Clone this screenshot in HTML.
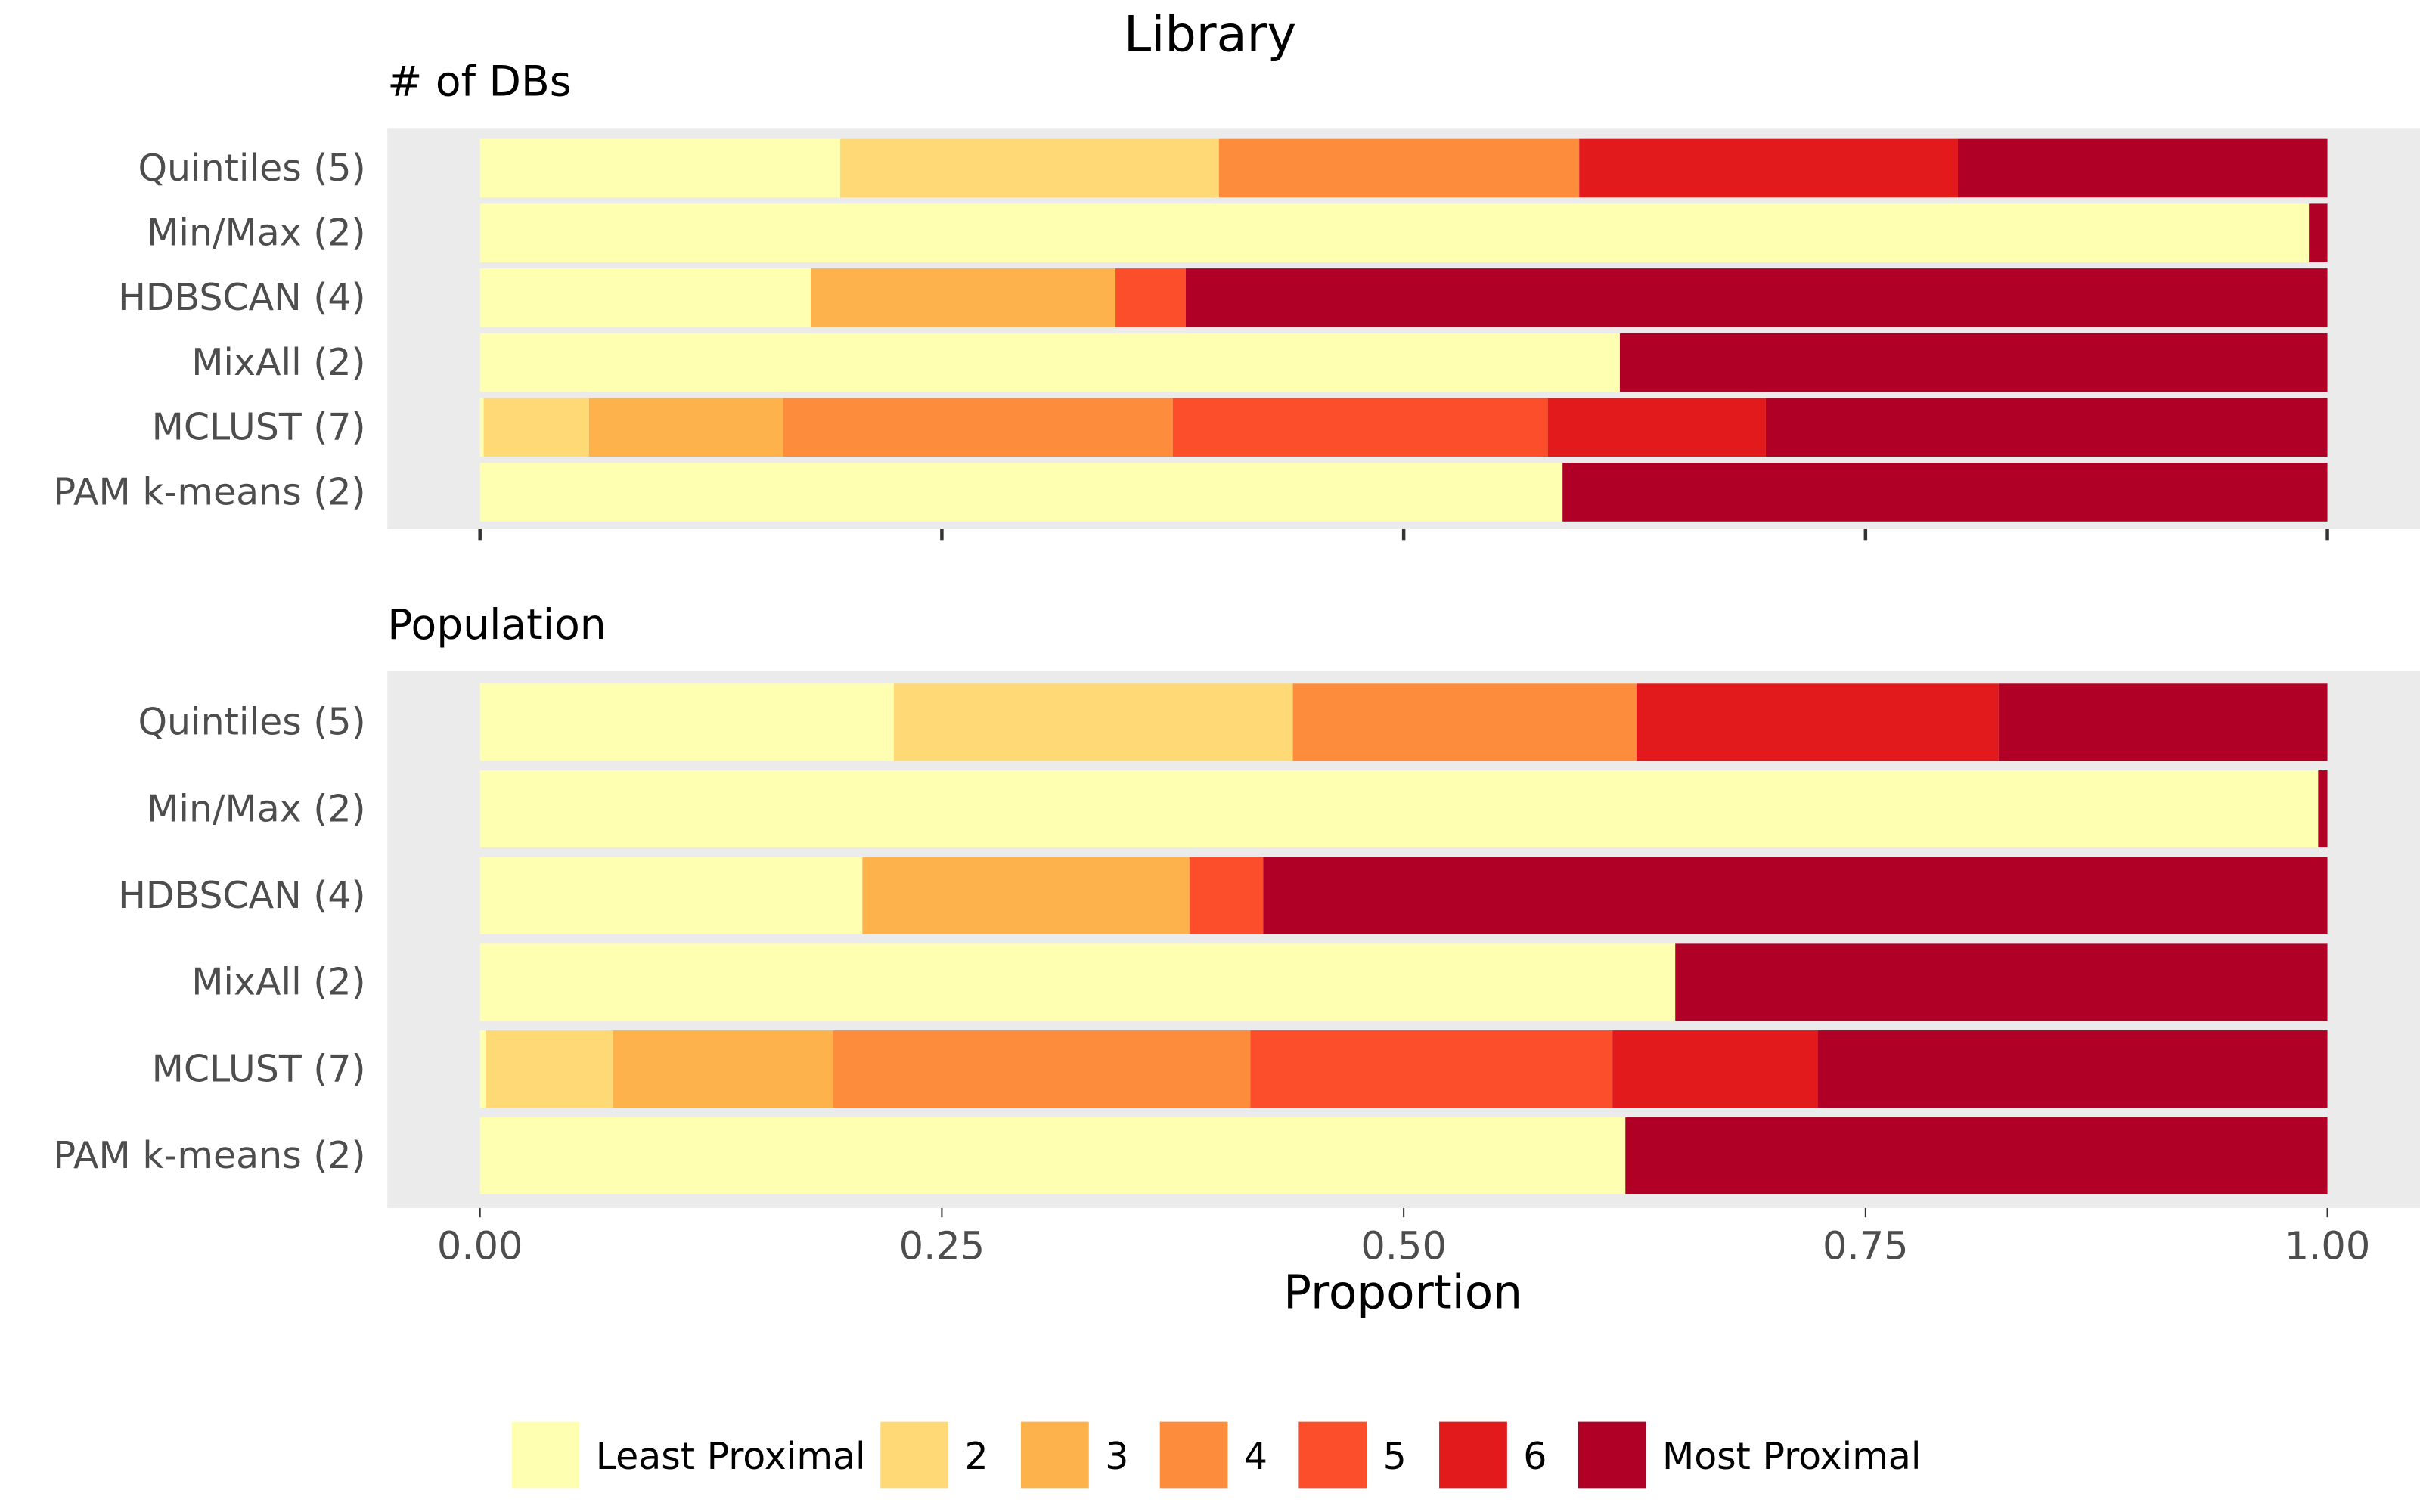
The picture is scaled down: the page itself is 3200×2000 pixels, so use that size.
<!DOCTYPE html>
<html><head><meta charset="utf-8"><style>
html,body{margin:0;padding:0;background:#fff}
svg{display:block;font-family:"DejaVu Sans","Liberation Sans",sans-serif}
</style></head><body>
<svg id="chart" width="3200" height="2000" viewBox="0 0 1568 980">
<text x="784" y="33" font-size="32" text-anchor="middle" fill="#000">Library</text>
<text x="251" y="62" font-size="27" fill="#000"># of DBs</text>
<text x="251" y="414" font-size="27" fill="#000">Population</text>
<rect x="251" y="83" width="1317" height="260" fill="#ebebeb"/>
<rect x="251" y="435" width="1317" height="348" fill="#ebebeb"/>
<g id="bars"></g>
<g id="axes"></g>
<text x="909" y="848" font-size="30" text-anchor="middle" fill="#000">Proportion</text>
<g id="legend"></g>
</svg>
<script>
const methods = ["Quintiles (5)","Min/Max (2)","HDBSCAN (4)","MixAll (2)","MCLUST (7)","PAM k-means (2)"];
const categories = ["Least Proximal","2","3","4","5","6","Most Proximal"];
const colors = ["#ffffb2","#fed976","#feb24c","#fd8d3c","#fc4e2a","#e31a1c","#b10026"];
const dbsValues = [
 [0.195,0.205,0,0.195,0,0.205,0.200],
 [0.990,0,0,0,0,0,0.010],
 [0.179,0,0.165,0,0.038,0,0.618],
 [0.617,0,0,0,0,0,0.383],
 [0.002,0.057,0.105,0.211,0.203,0.118,0.304],
 [0.586,0,0,0,0,0,0.414]
];
const popValues = [
 [0.224,0.216,0,0.186,0,0.196,0.178],
 [0.995,0,0,0,0,0,0.005],
 [0.207,0,0.177,0,0.040,0,0.576],
 [0.647,0,0,0,0,0,0.353],
 [0.003,0.069,0.119,0.226,0.196,0.111,0.276],
 [0.620,0,0,0,0,0,0.380]
];
const ticks = [0,0.25,0.5,0.75,1];
const tickLabels = ["0.00","0.25","0.50","0.75","1.00"];

const NS="http://www.w3.org/2000/svg";
const X0=311,X1=1508;
const xs=v=>X0+(X1-X0)*v;
function mk(tag,attrs,parent){const e=document.createElementNS(NS,tag);for(const k in attrs)e.setAttribute(k,attrs[k]);parent.appendChild(e);return e;}
const bars=document.getElementById('bars'),axes=document.getElementById('axes'),legend=document.getElementById('legend');

function panel(values,top,step,h){
  methods.forEach((m,i)=>{
    const cy=top+step*i+step/2;
    const lab=mk('text',{x:237,y:cy+8,'font-size':24,'text-anchor':'end',fill:'#4d4d4d'},axes);
    lab.textContent=m;
    
    
    let cum=0;
    values[i].forEach((v,j)=>{
      if(v<=0)return;
      const r=mk('rect',{x:xs(cum),y:cy-h/2,width:xs(cum+v)-xs(cum),height:h,fill:colors[j]},bars);
      
      
      cum+=v;
    });
  });
}
panel(dbsValues,88,42,38);
panel(popValues,440,56.2,50);

ticks.forEach((t,i)=>{
  const tk=mk('line',{x1:xs(t),x2:xs(t),y1:343,y2:350,stroke:'#333','stroke-width':2.2},axes);
  
  
  const tk2=mk('line',{x1:xs(t),x2:xs(t),y1:783,y2:789,stroke:'#333','stroke-width':1},axes);
  
  
  const tl=mk('text',{x:xs(t),y:816,'font-size':25,'text-anchor':'middle',fill:'#4d4d4d'},axes);
  tl.textContent=tickLabels[i];
  
  
});

const legX=[331,570,661,751,841,932,1022];
categories.forEach((c,i)=>{
  const r=mk('rect',{x:legX[i],y:921,width:45,height:44,fill:colors[i],stroke:'#fff','stroke-width':1},legend);
  
  
  const t=mk('text',{x:legX[i]+55,y:952,'font-size':24,fill:'#000'},legend);
  t.textContent=c;
  
  
});
</script>
</body></html>
